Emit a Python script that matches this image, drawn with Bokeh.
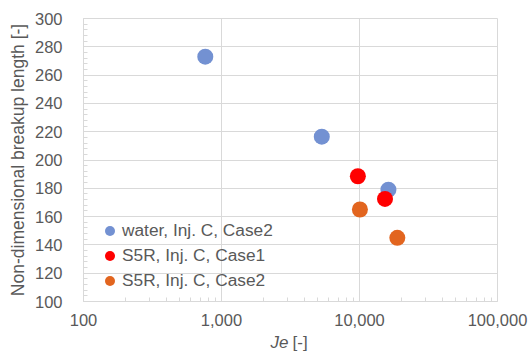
from bokeh.plotting import figure
from bokeh.models import FixedTicker, NumeralTickFormatter, Label, Legend, LegendItem
from bokeh.embed import file_html
from bokeh.resources import INLINE

# data
water_je = [763, 5330, 16200]
water_len = [273, 216.5, 179]
s5r_c1_je = [9730, 15300]
s5r_c1_len = [188.5, 172.5]
s5r_c2_je = [10070, 18800]
s5r_c2_len = [165, 145]

series_names = ["water, Inj. C, Case2", "S5R, Inj. C, Case1", "S5R, Inj. C, Case2"]
series_colors = ["#7391D2", "#FF0000", "#E2651F"]

x_ticks = [100, 1000, 10000, 100000]
y_ticks = [100, 120, 140, 160, 180, 200, 220, 240, 260, 280, 300]

FONT = "Liberation Sans"
TXT = "#595959"
GRID = "#D9D9D9"

p = figure(width=531, height=352, x_axis_type="log",
           x_range=(100, 100000), y_range=(100, 300),
           output_backend="svg", toolbar_location=None,
           min_border_left=83, min_border_right=34, min_border_top=18, min_border_bottom=51)
p.outline_line_color = GRID
p.outline_line_width = 1

x_minor = [m * d for d in [100, 1000, 10000] for m in range(2, 10)]
y_minor = list(range(100, 301, 4))
p.xaxis.ticker = FixedTicker(ticks=x_ticks, minor_ticks=x_minor)
p.yaxis.ticker = FixedTicker(ticks=y_ticks, minor_ticks=y_minor)
p.xaxis.formatter = NumeralTickFormatter(format="0,0")

for ax in (p.xaxis, p.yaxis):
    ax.axis_line_color = GRID
    ax.major_tick_line_color = None
    ax.major_tick_out = 0
    ax.major_tick_in = 0
    ax.minor_tick_line_color = GRID
    ax.minor_tick_in = 4
    ax.minor_tick_out = 0
    ax.major_label_text_font = FONT
    ax.major_label_text_font_size = "16.5px"
    ax.major_label_text_color = TXT
p.yaxis.major_label_standoff = 21
p.xaxis.major_label_standoff = 12
p.yaxis.axis_label = "Non-dimensional breakup length [-]"
p.yaxis.axis_label_text_font = FONT
p.yaxis.axis_label_text_font_size = "17.5px"
p.yaxis.axis_label_text_font_style = "normal"
p.yaxis.axis_label_text_color = TXT
p.yaxis.axis_label_standoff = 4

p.xgrid.grid_line_color = GRID
p.ygrid.grid_line_color = GRID
p.xgrid.ticker = FixedTicker(ticks=x_ticks)
p.ygrid.ticker = FixedTicker(ticks=y_ticks)

r1 = p.scatter(water_je, water_len, size=16, color=series_colors[0], line_color=None)
r2 = p.scatter(s5r_c1_je, s5r_c1_len, size=16, color=series_colors[1], line_color=None)
r3 = p.scatter(s5r_c2_je, s5r_c2_len, size=16, color=series_colors[2], line_color=None)

legend = Legend(items=[LegendItem(label=series_names[0], renderers=[r1]),
                       LegendItem(label=series_names[1], renderers=[r2]),
                       LegendItem(label=series_names[2], renderers=[r3])],
                location=(14, 8))
legend.background_fill_alpha = 0
legend.border_line_color = None
legend.label_text_font = FONT
legend.label_text_font_size = "17.3px"
legend.label_text_color = TXT
legend.glyph_width = 25
legend.glyph_height = 25
legend.label_height = 20
legend.spacing = 0
legend.label_standoff = -9
legend.padding = 0
legend.margin = 0
p.add_layout(legend, "center")

# x-axis title: italic "Je" in the bottom panel, "[-]" in the right panel shifted to sit beside it
p.add_layout(Label(x=187, y=5, x_units="screen", y_units="screen", text="Je", text_font=FONT,
                   text_font_size="17px", text_font_style="italic", text_color=TXT,
                   text_baseline="middle", text_align="left"), "below")
p.add_layout(Label(x=-205, y=-41, x_units="screen", y_units="screen", text="[-]", text_font=FONT,
                   text_font_size="17px", text_color=TXT,
                   text_baseline="middle", text_align="left"), "right")

open("out.html", "w").write(file_html(p, INLINE))
